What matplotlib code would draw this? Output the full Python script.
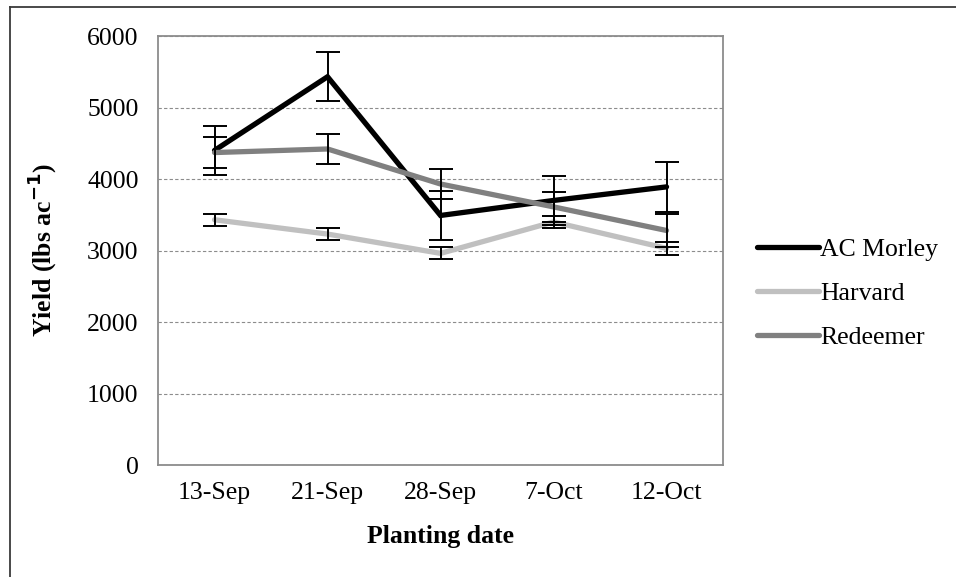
import matplotlib.pyplot as plt
from matplotlib.lines import Line2D

plt.rcParams['font.family'] = ['Liberation Serif', 'DejaVu Serif']

dates = ['13-Sep', '21-Sep', '28-Sep', '7-Oct', '12-Oct']

ac_morley = [4400, 5430, 3490, 3700, 3890]
harvard = [3430, 3230, 2960, 3400, 3030]
redeemer = [4370, 4420, 3930, 3610, 3280]

# error bar half-widths
ac_morley_err = [345, 345, 345, 345, 345]
harvard_err = [85, 85, 85, 85, 90]
redeemer_err = [215, 215, 215, 215, 225]

series = [
    ('AC Morley', ac_morley, ac_morley_err, '#000000'),
    ('Harvard', harvard, harvard_err, '#C0C0C0'),
    ('Redeemer', redeemer, redeemer_err, '#808080'),
]

fig = plt.figure(figsize=(9.56, 5.77), dpi=100)
ax = fig.add_axes([0.1653, 0.1941, 0.5910, 0.7435])

x = [i + 0.5 for i in range(len(dates))]
handles = []
for name, vals, errs, col in series:
    line, = ax.plot(x, vals, color=col, lw=3.8, solid_capstyle='round',
                    solid_joinstyle='miter', zorder=3, label=name)
    handles.append(line)
for name, vals, errs, col in series:
    ax.errorbar(x, vals, yerr=errs, fmt='none', ecolor='black', elinewidth=1.4,
                capsize=8.5, capthick=1.4, zorder=4)

ax.set_xlim(0, len(dates))
ax.set_ylim(0, 6000)
ax.set_yticks(range(0, 6001, 1000))
ax.set_xticks(x)
ax.set_xticklabels(dates)
ax.tick_params(axis='both', length=0, labelsize=18.5)
ax.tick_params(axis='y', pad=14)
ax.tick_params(axis='x', pad=12)

ax.yaxis.grid(True, linestyle=(0, (3, 2)), color='#8c8c8c', lw=0.8)
ax.set_axisbelow(True)
for s in ax.spines.values():
    s.set_color('#8c8c8c')
    s.set_linewidth(1.3)

ax.set_xlabel('Planting date', fontsize=18.5, fontweight='bold', labelpad=15)
ax.set_ylabel('Yield (lbs ac$^{\\mathbf{-1}}$)', fontsize=18.5, fontweight='bold', labelpad=20)

fig.legend(handles=handles, loc='center left', bbox_to_anchor=(0.768, 0.492),
           frameon=False, fontsize=18.5, handlelength=2.4, handletextpad=0.05,
           labelspacing=0.82)

# outer chart-area border (left and top edges visible)
fig.add_artist(Line2D([10 / 956, 10 / 956], [0, 1 - 7 / 577], color='#3a3a3a', lw=1.3))
fig.add_artist(Line2D([10 / 956, 1], [1 - 7 / 577, 1 - 7 / 577], color='#3a3a3a', lw=1.3))

fig.savefig('out.png', dpi=100)
